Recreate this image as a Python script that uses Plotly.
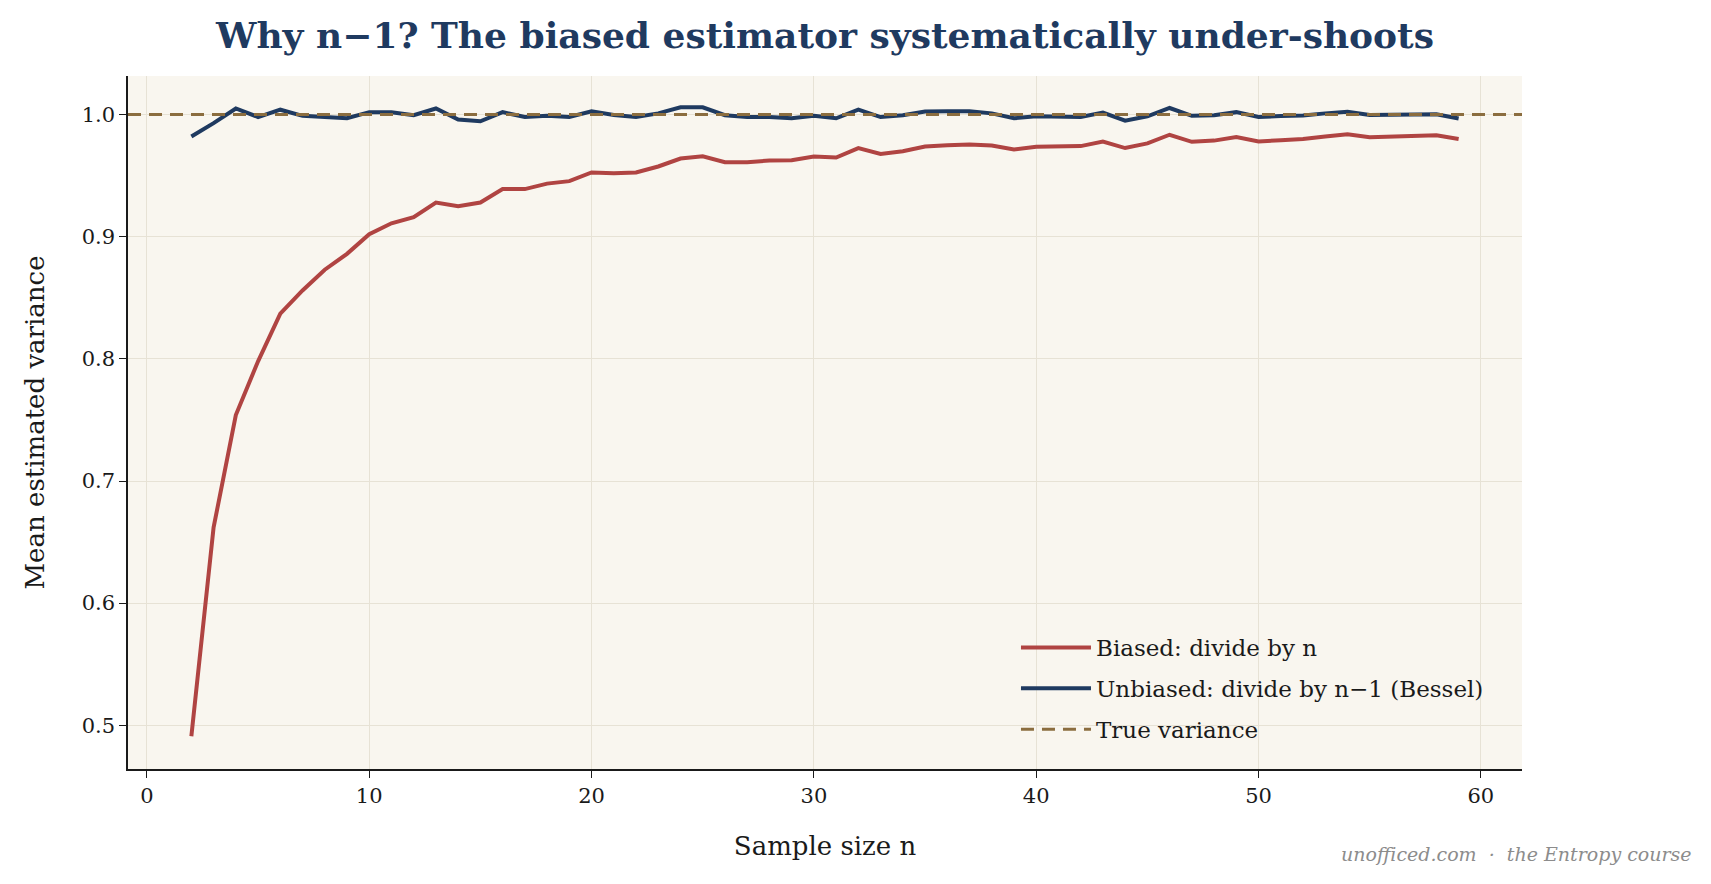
import plotly.graph_objects as go

# ---- data ----
n_values = list(range(2, 60))

unbiased_var = [
    0.982, 0.993, 1.005, 0.998, 1.004, 0.999, 0.998, 0.997, 1.002, 1.002,
    0.9995, 1.005, 0.996, 0.9945, 1.002, 0.998, 0.999, 0.998, 1.0027, 0.9997,
    0.998, 1.001, 1.006, 1.006, 0.9995, 0.998, 0.998, 0.997, 0.999, 0.997,
    1.004, 0.998, 0.9995, 1.0025, 1.0027, 1.0027, 1.001, 0.997, 0.9986, 0.998,
    0.998, 1.0016, 0.995, 0.9986, 1.0054, 0.999, 0.9995, 1.002, 0.998, 0.9988,
    0.9993, 1.001, 1.0024, 0.9997, 1.000, 0.9995, 1.0003, 0.9968,
]

biased_var = [
    0.491, 0.662, 0.754, 0.798, 0.837, 0.856, 0.873, 0.886, 0.902, 0.911,
    0.916, 0.928, 0.925, 0.928, 0.939, 0.939, 0.9435, 0.9455, 0.9526, 0.952,
    0.9526, 0.9575, 0.964, 0.9658, 0.961, 0.961, 0.9624, 0.9626, 0.9657, 0.9648,
    0.9726, 0.9678, 0.970, 0.9739, 0.9748, 0.9756, 0.9747, 0.9714, 0.9736, 0.9737,
    0.9742, 0.9779, 0.9726, 0.9764, 0.9835, 0.9777, 0.9787, 0.9816, 0.978, 0.979,
    0.9801, 0.9821, 0.9838, 0.9815, 0.9821, 0.982, 0.983, 0.980,
]

true_variance = 1.0

x_ticks = [0, 10, 20, 30, 40, 50, 60]
y_ticks = [0.5, 0.6, 0.7, 0.8, 0.9, 1.0]

# ---- style ----
FONT = "Georgia, 'DejaVu Serif', serif"
RED = "#b04442"
NAVY = "#1f3a60"
GOLD = "#8b6d3f"
PLOT_BG = "#f9f6ef"
GRID = "#e7e2d5"
INK = "#1a1a1a"

fig = go.Figure()

fig.add_trace(go.Scatter(
    x=n_values, y=biased_var, mode="lines", name="Biased: divide by n",
    line=dict(color=RED, width=4), legendgroup="a",
))
fig.add_trace(go.Scatter(
    x=n_values, y=unbiased_var, mode="lines",
    name="Unbiased: divide by n\u22121 (Bessel)",
    line=dict(color=NAVY, width=4), legendgroup="b",
))
# legend entry for the true-variance reference line
fig.add_trace(go.Scatter(
    x=[None], y=[None], mode="lines", name="True variance",
    line=dict(color=GOLD, width=3, dash="13px,8px"), legendgroup="c",
))

fig.add_shape(
    type="line", xref="x domain", yref="y", x0=0, x1=1,
    y0=true_variance, y1=true_variance,
    line=dict(color=GOLD, width=3, dash="13px,8px"), layer="above",
)

fig.add_annotation(
    text="<i>unofficed.com  \u00b7  the Entropy course</i>",
    xref="paper", yref="paper", x=1.0, y=0.0, xanchor="right", yanchor="middle",
    showarrow=False, font=dict(family=FONT, size=19, color="#8c8c8c"),
    xshift=172, yshift=-85,
)

fig.update_layout(
    width=1711, height=884,
    margin=dict(l=128, r=189, t=76, b=115),
    paper_bgcolor="white", plot_bgcolor=PLOT_BG,
    font=dict(family=FONT, color=INK),
    title=dict(
        text="<b>Why n\u22121? The biased estimator systematically under-shoots</b>",
        x=(128 + 1522) / 2 / 1711, xanchor="center", y=1 - 35 / 884, yanchor="middle",
        font=dict(family=FONT, size=36, color=NAVY),
    ),
    legend=dict(
        x=0.637, y=0.026, xanchor="left", yanchor="bottom",
        bgcolor="rgba(0,0,0,0)", borderwidth=0,
        font=dict(family=FONT, size=23, color=INK),
        traceorder="grouped", tracegroupgap=8, itemwidth=70,
    ),
    showlegend=True,
)

fig.update_xaxes(
    range=[-0.85, 61.85], tickvals=x_ticks,
    showgrid=True, gridcolor=GRID, gridwidth=1, zeroline=False,
    showline=True, linecolor=INK, linewidth=1.5,
    ticks="outside", ticklen=7, tickwidth=1.3, tickcolor=INK,
    tickfont=dict(family=FONT, size=21, color=INK),
    title=dict(text="Sample size n", font=dict(family=FONT, size=26, color=INK), standoff=30),
    mirror=False,
)
fig.update_yaxes(
    range=[0.4642, 1.0316], tickvals=y_ticks, tickformat=".1f",
    showgrid=True, gridcolor=GRID, gridwidth=1, zeroline=False,
    showline=True, linecolor=INK, linewidth=1.5,
    ticks="outside", ticklen=7, tickwidth=1.3, tickcolor=INK,
    tickfont=dict(family=FONT, size=21, color=INK),
    title=dict(text="Mean estimated variance", font=dict(family=FONT, size=26, color=INK), standoff=30),
    mirror=False,
)

fig.write_html("out.html")
